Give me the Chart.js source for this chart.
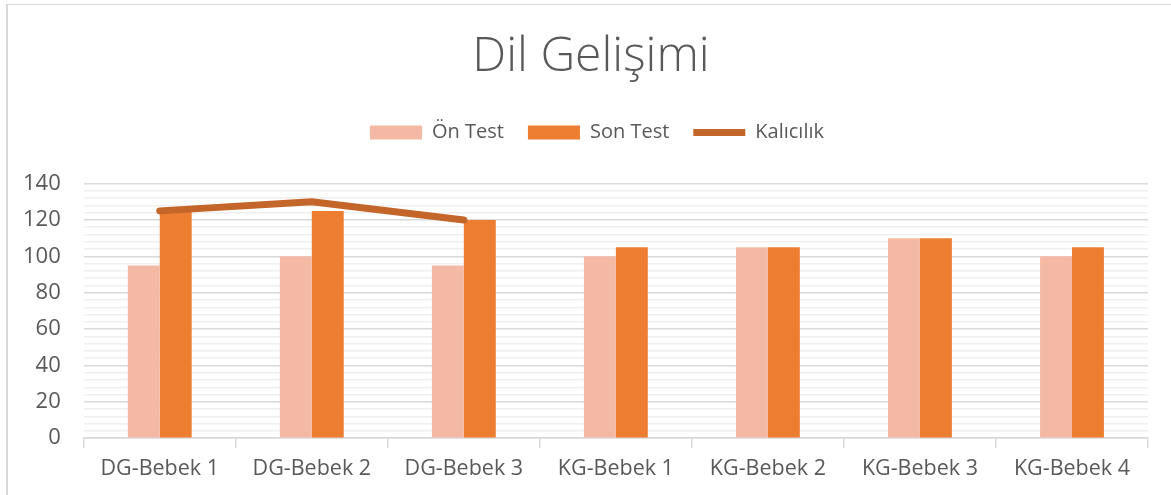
<!DOCTYPE html>
<html><head><meta charset="utf-8">
<script src="https://cdn.jsdelivr.net/npm/chart.js@4/dist/chart.umd.min.js"></script>
<style>
html,body{margin:0;padding:0;background:#fff;overflow:hidden;}
#wrap{position:absolute;left:6px;top:4px;width:1175px;height:490px;border-left:2px solid #d9d9d9;border-top:1px solid #d9d9d9;}
canvas{display:block;}
</style></head>
<body>
<div id="wrap"><canvas id="c"></canvas></div>
<script>
const categories = ["DG-Bebek 1","DG-Bebek 2","DG-Bebek 3","KG-Bebek 1","KG-Bebek 2","KG-Bebek 3","KG-Bebek 4"];
const onTest = [95, 100, 95, 100, 105, 110, 100];
const sonTest = [125, 125, 120, 105, 105, 110, 105];
const kalicilik = [125, 130, 120, null, null, null, null];
const yTickValues = [0, 20, 40, 60, 80, 100, 120, 140];
const yMin = 0, yMax = 140, yMajor = 20, yMinor = 4;

const FONT = "'Open Sans', 'Liberation Sans', sans-serif";
const legendOrder = {'Ön Test':0,'Son Test':1,'Kalıcılık':2};
const legendExtra = {
  id:'legendExtra',
  beforeInit(chart){
    const fit = chart.legend.fit;
    chart.legend.fit = function(){ fit.call(this); this.height += 31; };
  },
  afterLayout(chart){
    const t = chart.titleBlock, l = chart.legend;
    if (t) { t.left += 17; t.right += 17; }
    if (l) { l.left += 23; l.right += 23; }
  }
};
new Chart(document.getElementById('c'), {
  data: {
    labels: categories,
    datasets: [
      {type:'bar', label:'Ön Test', data:onTest, backgroundColor:'#F4B9A5', pointStyle:'rect', categoryPercentage:0.42, barPercentage:1.0, order:1},
      {type:'bar', label:'Son Test', data:sonTest, backgroundColor:'#ED7D31', pointStyle:'rect', categoryPercentage:0.42, barPercentage:1.0, order:1},
      {type:'line', label:'Kalıcılık', data:kalicilik, borderColor:'#C4652A', backgroundColor:'#C4652A', borderWidth:7, pointRadius:0, pointStyle:'line', borderCapStyle:'round', borderJoinStyle:'round', order:0, spanGaps:false}
    ]
  },
  options: {
    responsive:true, maintainAspectRatio:false, animation:false,
    layout:{padding:{left:-8,right:35,top:0,bottom:5}},
    plugins:{
      title:{display:true, text:'Dil Gelişimi', color:'#595959', font:{family:FONT, size:48, weight:'300'}, padding:{top:24,bottom:12}},
      legend:{
        display:true, position:'top',
        labels:{
          color:'#595959', font:{family:FONT, size:20}, usePointStyle:true, pointStyleWidth:52, boxHeight:14, padding:24,
          sort:(a,b)=>legendOrder[a.text]-legendOrder[b.text]
        }
      },
      tooltip:{enabled:false}
    },
    scales:{
      x:{
        offset:true,
        grid:{offset:true, drawOnChartArea:false, drawTicks:true, tickLength:10, color:'#d9d9d9', lineWidth:1.5},
        border:{display:true, color:'#d9d9d9', width:1.5},
        ticks:{color:'#595959', font:{family:FONT, size:21.5}, padding:8}
      },
      y:{
        min:yMin, max:yMax,
        afterBuildTicks:(ax)=>{const t=[];for(let v=yMin;v<=yMax;v+=yMinor)t.push({value:v});ax.ticks=t;},
        grid:{drawTicks:false, color:(c)=> (c.tick && yTickValues.includes(c.tick.value)) ? '#d9d9d9' : '#efefef', lineWidth:1.5},
        border:{display:false},
        ticks:{autoSkip:false, color:'#595959', font:{family:FONT, size:22}, padding:23,
          callback:(v)=> yTickValues.includes(v) ? String(v) : ''}
      }
    }
  },
  plugins:[legendExtra]
});
</script>
</body></html>
